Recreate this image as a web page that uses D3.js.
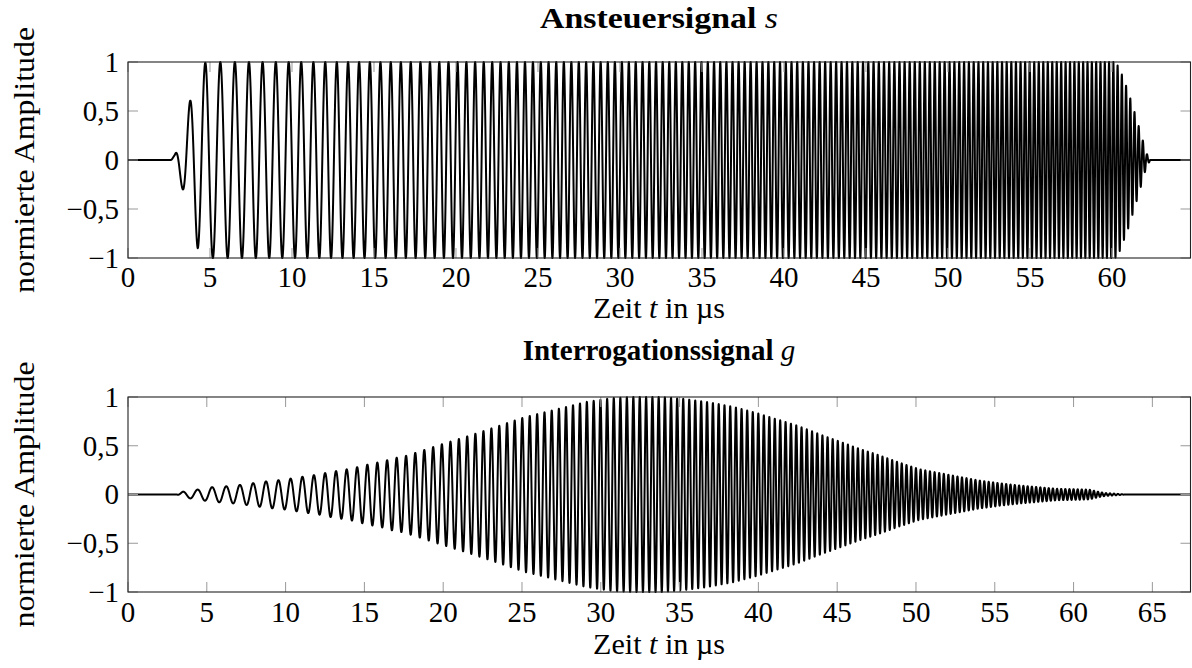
<!DOCTYPE html>
<html>
<head>
<meta charset="utf-8">
<script src="https://cdn.jsdelivr.net/npm/d3@7"></script>
<style>
  body { margin: 0; background: #fff; }
  svg { display: block; font-family: "Liberation Serif", "DejaVu Serif", serif; }
</style>
</head>
<body>
<div id="chart"></div>
<script>
/*
    Two stacked signal plots: drive signal s and interrogation signal g.
    The waveforms are built from envelope and chirp-frequency points.
*/

// tick values
var yTicks = [-1, -0.5, 0, 0.5, 1];
var xTicksTop = [0, 5, 10, 15, 20, 25, 30, 35, 40, 45, 50, 55, 60];
var xTicksBottom = [0, 5, 10, 15, 20, 25, 30, 35, 40, 45, 50, 55, 60, 65];

// instantaneous frequency of the chirp (MHz) over time (µs)
var chirpT = [2.5, 5, 10, 15, 22.4, 44, 58, 63.5];
var chirpF = [1.05, 1.08, 1.3, 1.55, 1.96, 3.05, 3.75, 4.0];

// envelope of s (Ansteuersignal)
var sEnvT = [2.6, 2.85, 3.3, 3.78, 4.25, 4.75, 60.2, 60.45, 60.95, 61.45, 61.8, 62.1, 62.35];
var sEnvA = [0, 0.05, 0.28, 0.6, 0.9, 1, 1, 0.94, 0.72, 0.45, 0.25, 0.07, 0];
var sPhaseStart = 2.6;

// envelope of g (Interrogationssignal)
var gEnvT = [3.1, 3.5, 4.4, 5.3, 6.3, 7.2, 8.1, 9.0, 9.8, 10.6, 11.4, 12.1, 12.8, 13.6, 14.3, 15.0,
    15.6, 16.2, 16.8, 17.5, 18.1, 19.8, 21.5, 23.1, 25.1, 27.1, 29.1, 30.8, 32.0, 33.8, 35.3, 36.7,
    38.4, 40.0, 41.4, 42.4, 44.1, 45.1, 46.4, 47.7, 48.9, 50.2, 51.5, 52.8, 54.0, 55.3, 56.6, 57.8,
    59.0, 60.0, 61.0, 61.5, 62.0, 62.7, 63.3];
var gEnvA = [0, 0.03, 0.05, 0.075, 0.085, 0.10, 0.12, 0.14, 0.15, 0.17, 0.19, 0.205, 0.23, 0.25, 0.27, 0.30,
    0.32, 0.34, 0.37, 0.39, 0.42, 0.51, 0.595, 0.68, 0.79, 0.87, 0.95, 0.99, 1.0, 1.0, 0.98, 0.95,
    0.90, 0.83, 0.76, 0.71, 0.605, 0.547, 0.47, 0.40, 0.33, 0.26, 0.22, 0.18, 0.144, 0.116, 0.092, 0.075,
    0.058, 0.055, 0.05, 0.03, 0.015, 0.008, 0];
var gPhaseStart = 2.29;

var width = 1192;
var height = 668;
var fontSize = 29;

var svg = d3.select('#chart').append('svg')
    .attr('width', width)
    .attr('height', height);

var freq = d3.scaleLinear().domain(chirpT).range(chirpF).clamp(true);

/* sample envelope * sin(chirp phase) */
function buildSignal(envT, envA, phaseStart, tMax) {
    var env = d3.scaleLinear().domain(envT).range(envA).clamp(true);
    var dt = 0.004;
    var pts = [];
    var phase = 0;
    var prevF = freq(phaseStart);
    // phase is integrated from phaseStart onward
    for (var t = 0; t <= tMax + 1e-9; t += dt) {
        var v = 0;
        if (t >= phaseStart) {
            var f = freq(t);
            phase += Math.PI * (f + prevF) * dt;
            prevF = f;
            v = env(t) * Math.sin(phase);
        }
        if (t < envT[0] || t > envT[envT.length - 1]) v = 0;
        pts.push({t: t, v: v});
    }
    return pts;
}

function fmt(d) {
    return String(d).replace('.', ',').replace('-', '\u2212');
}

function drawPanel(o) {
    var x = d3.scaleLinear().domain([0, o.xMax]).range([128, 1190.5]);
    var y = d3.scaleLinear().domain([-1, 1]).range([o.bottom, o.top]);
    var g = svg.append('g');

    var data = buildSignal(o.envT, o.envA, o.phaseStart, o.xMax);
    var line = d3.line()
        .x(function(d) { return x(d.t); })
        .y(function(d) { return y(d.v); });

    g.append('path')
        .datum(data)
        .attr('fill', 'none')
        .attr('stroke', '#000')
        .attr('stroke-width', 2)
        .attr('stroke-linejoin', 'round')
        .attr('d', line);

    // inward ticks on all four sides
    var tl = 10;
    o.xTicks.forEach(function(d) {
        g.append('line').attr('x1', x(d)).attr('x2', x(d)).attr('y1', o.bottom).attr('y2', o.bottom - tl)
            .attr('stroke', '#999').attr('stroke-width', 1);
        g.append('line').attr('x1', x(d)).attr('x2', x(d)).attr('y1', o.top).attr('y2', o.top + tl)
            .attr('stroke', '#999').attr('stroke-width', 1);
        g.append('text')
            .attr('x', x(d)).attr('y', o.tickY)
            .attr('text-anchor', 'middle')
            .attr('font-size', fontSize)
            .text(fmt(d));
    });
    yTicks.forEach(function(d) {
        g.append('line').attr('x1', 128).attr('x2', 128 + tl).attr('y1', y(d)).attr('y2', y(d))
            .attr('stroke', '#999').attr('stroke-width', 1);
        g.append('line').attr('x1', 1190.5).attr('x2', 1190.5 - tl).attr('y1', y(d)).attr('y2', y(d))
            .attr('stroke', '#999').attr('stroke-width', 1);
        g.append('text')
            .attr('x', 119).attr('y', y(d))
            .attr('dy', '0.34em')
            .attr('text-anchor', 'end')
            .attr('font-size', fontSize)
            .text(fmt(d));
    });

    // frame
    g.append('rect')
        .attr('x', 128).attr('y', o.top)
        .attr('width', 1190.5 - 128).attr('height', o.bottom - o.top)
        .attr('fill', 'none')
        .attr('stroke', '#222')
        .attr('stroke-width', 1.1);

    // title
    var title = g.append('text')
        .attr('x', 659).attr('y', o.titleY)
        .attr('text-anchor', 'middle')
        .attr('font-size', fontSize);
    if (o.titleLen) {
        title.attr('textLength', o.titleLen).attr('lengthAdjust', 'spacingAndGlyphs');
    }
    title.append('tspan').attr('font-weight', 'bold').text(o.title + ' ');
    title.append('tspan').attr('font-style', 'italic').text(o.sym);

    // x label
    var xl = g.append('text')
        .attr('x', 659).attr('y', o.xLabelY)
        .attr('text-anchor', 'middle')
        .attr('font-size', fontSize)
        .attr('textLength', 132)
        .attr('lengthAdjust', 'spacingAndGlyphs');
    xl.append('tspan').text('Zeit ');
    xl.append('tspan').attr('font-style', 'italic').text('t');
    xl.append('tspan').text(' in \u00b5s');

    // y label
    g.append('text')
        .attr('transform', 'translate(34,' + ((o.top + o.bottom) / 2) + ') rotate(-90)')
        .attr('text-anchor', 'middle')
        .attr('font-size', fontSize)
        .attr('textLength', 266)
        .attr('lengthAdjust', 'spacingAndGlyphs')
        .text('normierte Amplitude');
}

drawPanel({
    top: 62, bottom: 258, xMax: 64.79, xTicks: xTicksTop,
    envT: sEnvT, envA: sEnvA, phaseStart: sPhaseStart,
    title: 'Ansteuersignal', sym: 's', titleLen: 238,
    titleY: 28, tickY: 287, xLabelY: 318
});

drawPanel({
    top: 397, bottom: 592, xMax: 67.42, xTicks: xTicksBottom,
    envT: gEnvT, envA: gEnvA, phaseStart: gPhaseStart,
    title: 'Interrogationssignal', sym: 'g', titleLen: null,
    titleY: 360, tickY: 622, xLabelY: 654
});
</script>
</body>
</html>
